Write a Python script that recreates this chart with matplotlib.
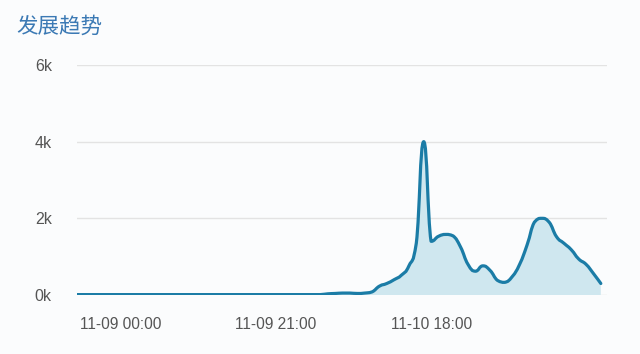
import numpy as np
import matplotlib
matplotlib.use('Agg')
import matplotlib.pyplot as plt
from matplotlib.path import Path
from matplotlib.patches import PathPatch

plt.rcParams['font.family'] = ['Liberation Sans', 'Noto Sans CJK SC', 'DejaVu Sans']

# hours counted from 11-09 00:00
hours = list(range(-6, 66))
heat = [10] * 34 + [
    30, 40, 50, 50, 40, 50, 80, 230, 300, 400,
    520, 760, 1350, 4000, 1400, 1530, 1580, 1540, 1250, 800,
    620, 760, 640, 380, 330, 480, 800, 1300, 1900, 2000,
    1900, 1520, 1350, 1180, 940, 800, 560, 300,
]
tick_pos = [0, 21, 42]
tick_labels = ['11-09 00:00', '11-09 21:00', '11-10 18:00']
y_ticks = [0, 2000, 4000, 6000]
y_labels = ['0k', '2k', '4k', '6k']


def smooth_path(x, y, k=0.25):
    # cubic bezier through every point, control points kept inside each segment
    x = np.asarray(x, float)
    y = np.asarray(y, float)
    verts = [(x[0], y[0])]
    codes = [Path.MOVETO]
    n = len(x)
    for i in range(n - 1):
        p0 = max(i - 1, 0)
        p3 = min(i + 2, n - 1)
        lo, hi = min(y[i], y[i + 1]), max(y[i], y[i + 1])
        c1y = np.clip(y[i] + k * (y[i + 1] - y[p0]), lo, hi)
        c2y = np.clip(y[i + 1] - k * (y[p3] - y[i]), lo, hi)
        c1 = (x[i] + k * (x[i + 1] - x[p0]), c1y)
        c2 = (x[i + 1] - k * (x[p3] - x[i]), c2y)
        verts += [c1, c2, (x[i + 1], y[i + 1])]
        codes += [Path.CURVE4] * 3
    return verts, codes


bg = '#fbfcfd'
fig = plt.figure(figsize=(6.4, 3.54), dpi=100, facecolor=bg)
ax = fig.add_axes([0.120, 0.1667, 0.828, 0.6497], facecolor=bg)

verts, codes = smooth_path(hours, heat)
fill_verts = verts + [(hours[-1], 0), (hours[0], 0), (hours[0], heat[0])]
fill_codes = codes + [Path.LINETO, Path.LINETO, Path.CLOSEPOLY]
ax.add_patch(PathPatch(Path(fill_verts, fill_codes), facecolor='#cfe7ef', lw=0))
ax.add_patch(PathPatch(Path(verts, codes), facecolor='none', edgecolor='#1b7ca6',
                       lw=2.3, joinstyle='round', capstyle='round'))

ax.set_xlim(-6, 65.8)
ax.set_ylim(0, 6000)
ax.set_yticks(y_ticks)
ax.set_yticklabels(y_labels)
ax.set_xticks(tick_pos)
ax.set_xticklabels(tick_labels)
ax.grid(axis='y', color='#e3e3e3', lw=1)
ax.set_axisbelow(True)
for s in ax.spines.values():
    s.set_visible(False)
ax.tick_params(axis='both', length=0, colors='#555555')
ax.tick_params(axis='y', pad=18, labelsize=11.5)
ax.tick_params(axis='x', pad=16, labelsize=11.2)

fig.text(0.025, 0.925, '发展趋势', fontsize=15.5, color='#3b79b4',
         family=['Noto Sans CJK SC', 'DejaVu Sans'], va='center', weight='medium')

fig.savefig('out.png', dpi=100, facecolor=bg)
